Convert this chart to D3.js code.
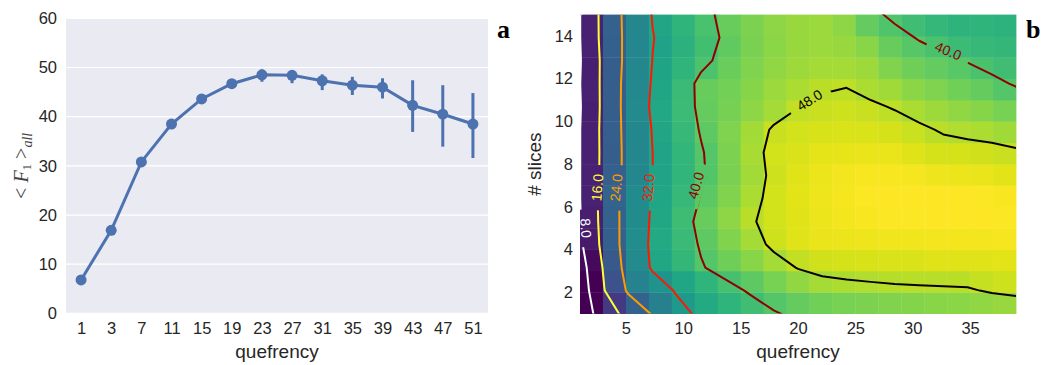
<!DOCTYPE html>
<html>
<head>
<meta charset="utf-8">
<script src="https://cdn.jsdelivr.net/npm/d3@7"></script>
<style>
body { margin: 0; background: #fff; }
text { font-family: "Liberation Sans", Arial, sans-serif; }
</style>
</head>
<body>
<div class="container"></div>
<script>
// ---- panel a : mean F1 per quefrency ----
var quefA = ["1","3","7","11","15","19","23","27","31","35","39","43","47","51"];
var meanF1 = [6.8, 16.9, 30.8, 38.5, 43.6, 46.7, 48.5, 48.4, 47.3, 46.4, 46.0, 42.3, 40.5, 38.5];
var ciLow  = [6.5, 16.6, 30.3, 37.9, 43.0, 45.9, 47.1, 46.8, 45.4, 44.4, 43.7, 36.9, 33.9, 31.6];
var ciHigh = [7.1, 17.2, 31.3, 39.1, 44.2, 47.5, 49.6, 49.3, 48.6, 48.1, 47.8, 47.4, 46.4, 44.8];
var yTicksA = [0, 10, 20, 30, 40, 50, 60];

// ---- panel b : F1 over quefrency x slices ----
var quefExtent = [1, 39];
var sliceExtent = [1, 15];
// one row per slice step, bottom row first, 19 quefrency columns
var f1Grid = [
	[3.5, 11.7, 18.8, 24.6, 29.9, 33.3, 35.4, 37.5, 39.6, 41.0, 42.0, 42.6, 43.0, 43.4, 43.6, 43.9, 44.1, 44.5, 45.0],
	[3.4, 15.8, 25.0, 28.7, 32.6, 35.4, 38.2, 40.5, 42.5, 44.5, 46.0, 46.6, 46.9, 47.2, 47.4, 47.5, 47.6, 48.4, 48.9],
	[4.6, 16.9, 26.8, 32.7, 36.1, 39.6, 41.9, 44.0, 46.1, 48.2, 49.2, 49.5, 49.8, 50.0, 50.0, 50.2, 50.3, 50.3, 50.5],
	[6.7, 18.4, 27.3, 33.1, 36.9, 40.5, 43.3, 46.1, 48.9, 50.2, 51.0, 51.3, 51.5, 51.6, 51.7, 51.8, 51.8, 51.9, 52.0],
	[7.6, 18.8, 27.1, 32.8, 37.3, 41.3, 44.4, 47.5, 49.3, 50.3, 51.2, 51.8, 52.2, 52.4, 52.5, 52.6, 52.6, 52.6, 52.5],
	[7.9, 19.0, 27.0, 32.5, 36.4, 40.3, 43.3, 46.4, 49.4, 50.5, 51.5, 52.0, 52.4, 52.6, 52.7, 52.7, 52.6, 52.5, 52.3],
	[7.9, 18.1, 26.3, 32.0, 35.7, 39.4, 42.7, 45.8, 49.0, 50.3, 51.3, 51.9, 52.2, 52.2, 52.0, 51.5, 51.2, 51.0, 50.5],
	[7.9, 18.0, 26.3, 32.0, 35.8, 39.6, 42.9, 46.2, 49.3, 50.0, 50.6, 50.9, 51.0, 51.0, 50.3, 49.5, 49.5, 49.2, 48.6],
	[7.9, 18.1, 26.5, 32.3, 36.4, 40.4, 43.1, 45.8, 48.5, 49.3, 49.8, 50.0, 50.0, 49.6, 48.7, 47.6, 46.9, 46.4, 45.6],
	[7.6, 17.9, 26.8, 32.9, 37.1, 41.0, 42.4, 44.3, 46.1, 47.9, 48.5, 48.9, 48.6, 47.7, 46.4, 45.4, 44.5, 43.8, 42.6],
	[7.9, 17.9, 26.7, 32.5, 36.9, 41.2, 42.3, 43.8, 45.2, 46.5, 47.6, 47.8, 46.5, 45.6, 44.2, 43.1, 42.0, 41.0, 39.6],
	[7.6, 17.9, 26.2, 32.1, 35.4, 38.8, 41.4, 43.2, 44.6, 45.5, 46.0, 46.1, 45.4, 43.4, 41.9, 40.8, 39.8, 38.5, 37.5],
	[7.9, 18.4, 26.0, 31.8, 34.8, 37.8, 40.7, 42.8, 44.2, 45.0, 45.3, 45.0, 43.9, 41.3, 39.7, 38.5, 37.1, 36.5, 36.0],
	[7.9, 18.5, 26.2, 32.3, 35.4, 38.5, 41.2, 43.0, 44.3, 45.0, 45.2, 44.3, 41.0, 39.1, 37.5, 36.3, 35.3, 35.5, 35.0]
];
var levels = [8, 16, 24, 32, 40, 48];
var xTicksB = [5, 10, 15, 20, 25, 30, 35];
var yTicksB = [2, 4, 6, 8, 10, 12, 14];
// contour labels: level, quefrency, slices
var labelSpots = [[8, 1.52, 5.0], [16, 2.5, 6.9], [24, 4.15, 6.9], [32, 6.95, 6.9],
	[40, 11.1, 7.0], [48, 21.0, 11.0], [40, 33.1, 13.3]];

var W = 1043, H = 365;
var textCol = "#262626";
var blue = "#4c72b0";

var svg = d3.select(".container").append("svg")
	.attr("width", W)
	.attr("height", H);
var defs = svg.append("defs");

function styleTicks(g, size) {
	g.select(".domain").remove();
	g.selectAll("text")
		.style("font-size", size)
		.style("fill", textCol)
		.style("font-family", "'Liberation Sans', Arial, sans-serif");
}

// ================= panel a =================
var pa = {l: 66, r: 488, t: 18.3, b: 313.4};
var xA = d3.scalePoint().domain(quefA).range([pa.l, pa.r]).padding(0.5);
var yA = d3.scaleLinear().domain([0, 60]).range([pa.b, pa.t]);

var gA = svg.append("g");
gA.append("rect")
	.attr("x", pa.l).attr("y", pa.t)
	.attr("width", pa.r - pa.l).attr("height", pa.b - pa.t)
	.attr("fill", "#eaeaf2");

gA.selectAll(".grid").data(yTicksA).enter().append("line")
	.attr("class", "grid")
	.attr("x1", pa.l).attr("x2", pa.r)
	.attr("y1", function(d) { return yA(d); })
	.attr("y2", function(d) { return yA(d); })
	.style("stroke", "#fff")
	.style("stroke-width", 1.2);

gA.append("g")
	.attr("transform", "translate(" + pa.l + ",0)")
	.call(d3.axisLeft(yA).tickValues(yTicksA).tickSize(0).tickPadding(9))
	.call(styleTicks, "16.5px");

gA.append("g")
	.attr("transform", "translate(0," + pa.b + ")")
	.call(d3.axisBottom(xA).tickSize(0).tickPadding(9))
	.call(styleTicks, "16.5px");

gA.selectAll(".ebar").data(quefA).enter().append("line")
	.attr("class", "ebar")
	.attr("x1", function(d) { return xA(d); })
	.attr("x2", function(d) { return xA(d); })
	.attr("y1", function(d, i) { return yA(ciLow[i]); })
	.attr("y2", function(d, i) { return yA(ciHigh[i]); })
	.style("stroke", blue)
	.style("stroke-width", 3);

var lineA = d3.line()
	.x(function(d, i) { return xA(quefA[i]); })
	.y(function(d) { return yA(d); });

gA.append("path")
	.datum(meanF1)
	.attr("d", lineA)
	.style("fill", "none")
	.style("stroke", blue)
	.style("stroke-width", 3);

gA.selectAll(".pt").data(meanF1).enter().append("circle")
	.attr("class", "pt")
	.attr("cx", function(d, i) { return xA(quefA[i]); })
	.attr("cy", function(d) { return yA(d); })
	.attr("r", 5.5)
	.style("fill", blue);

gA.append("text")
	.attr("x", (pa.l + pa.r) / 2).attr("y", 358)
	.attr("text-anchor", "middle")
	.style("font-size", "19px")
	.style("fill", textCol)
	.text("quefrency");

var yl = gA.append("text")
	.attr("transform", "translate(28," + ((pa.t + pa.b) / 2) + ") rotate(-90)")
	.attr("text-anchor", "middle")
	.style("font-family", "'Liberation Serif', 'DejaVu Serif', serif")
	.style("font-size", "20px")
	.style("fill", "#444");
yl.append("tspan").text("< ");
yl.append("tspan").style("font-style", "italic").text("F");
yl.append("tspan").attr("baseline-shift", "-25%").style("font-size", "13px").text("1");
yl.append("tspan").text(" >");
yl.append("tspan").attr("baseline-shift", "-25%").style("font-size", "14px").style("font-style", "italic").text("all");

svg.append("text")
	.attr("x", 497).attr("y", 38)
	.style("font-family", "'Liberation Serif', 'DejaVu Serif', serif")
	.style("font-weight", "bold")
	.style("font-size", "26px")
	.style("fill", "#000")
	.text("a");

// ================= panel b =================
var pb = {l: 580, r: 1016, t: 14.6, b: 313.6};
var nCols = f1Grid[0].length, nRows = f1Grid.length;
var xB = d3.scaleLinear().domain(quefExtent).range([pb.l, pb.r]);
var yB = d3.scaleLinear().domain(sliceExtent).range([pb.b, pb.t]);
var colW = (quefExtent[1] - quefExtent[0]) / nCols;
var rowH = (sliceExtent[1] - sliceExtent[0]) / nRows;

var flat = [];
f1Grid.forEach(function(row, i) {
	row.forEach(function(v, j) { flat.push({i: i, j: j, v: v}); });
});
var allVals = flat.map(function(d) { return d.v; });
var color = d3.scaleSequential(d3.interpolateViridis).domain(d3.extent(allVals));

var gB = svg.append("g");
gB.selectAll(".cell").data(flat).enter().append("rect")
	.attr("class", "cell")
	.attr("x", function(d) { return xB(quefExtent[0] + d.j * colW); })
	.attr("y", function(d) { return yB(sliceExtent[0] + (d.i + 1) * rowH); })
	.attr("width", xB(colW) - xB(0) + 0.4)
	.attr("height", yB(0) - yB(rowH) + 0.4)
	.style("fill", function(d) { return color(d.v); });

// contours: data points span the whole extent (corner to corner)
var stepX = (quefExtent[1] - quefExtent[0]) / (nCols - 1);
var stepY = (sliceExtent[1] - sliceExtent[0]) / (nRows - 1);
function gridToPx(c, r) {
	return [xB(quefExtent[0] + (c - 0.5) * stepX), yB(sliceExtent[0] + (r - 0.5) * stepY)];
}
var proj = d3.geoTransform({
	point: function(c, r) {
		var p = gridToPx(c, r);
		this.stream.point(p[0], p[1]);
	}
});
var pathB = d3.geoPath(proj);

var contours = d3.contours()
	.size([nCols, nRows])
	.thresholds(levels)(allVals);

// hot_r colours for the six levels
var levelColors = ["#ffffff", "#ffff36", "#ff9d00", "#ff1800", "#900000", "#0b0000"];

defs.append("clipPath").attr("id", "clipB")
	.append("rect")
	.attr("x", pb.l).attr("y", pb.t)
	.attr("width", pb.r - pb.l).attr("height", pb.b - pb.t);

var masks = levels.map(function(lv, k) {
	var m = defs.append("mask").attr("id", "mask" + k)
		.attr("maskUnits", "userSpaceOnUse")
		.attr("x", 0).attr("y", 0).attr("width", W).attr("height", H);
	m.append("rect").attr("width", W).attr("height", H).attr("fill", "white");
	return m;
});

var gLines = gB.append("g").attr("clip-path", "url(#clipB)");
contours.forEach(function(ct, k) {
	gLines.append("g")
		.attr("mask", "url(#mask" + k + ")")
		.append("path")
		.attr("d", pathB(ct))
		.style("fill", "none")
		.style("stroke", levelColors[k])
		.style("stroke-width", 2)
		.style("stroke-linejoin", "round");
});

// angle of the level's line closest to a pixel point
function angleOnLevel(k, px, py) {
	var best = {d: Infinity, a: 0};
	contours[k].coordinates.forEach(function(poly) {
		poly.forEach(function(ring) {
			for (var n = 1; n < ring.length; n++) {
				var p0 = gridToPx(ring[n - 1][0], ring[n - 1][1]);
				var p1 = gridToPx(ring[n][0], ring[n][1]);
				var dx = p1[0] - p0[0], dy = p1[1] - p0[1];
				var len2 = dx * dx + dy * dy;
				if (len2 === 0) continue;
				var t = ((px - p0[0]) * dx + (py - p0[1]) * dy) / len2;
				t = Math.max(0, Math.min(1, t));
				var qx = p0[0] + t * dx, qy = p0[1] + t * dy;
				var dd = (qx - px) * (qx - px) + (qy - py) * (qy - py);
				if (dd < best.d) {
					best = {d: dd, a: Math.atan2(dy, dx) * 180 / Math.PI};
				}
			}
		});
	});
	var a = best.a;
	if (a >= 90) a -= 180;
	if (a < -90) a += 180;
	return a;
}

var gLab = gB.append("g");
labelSpots.forEach(function(s) {
	var k = levels.indexOf(s[0]);
	var px = xB(s[1]), py = yB(s[2]);
	var a = angleOnLevel(k, px, py);
	var tr = "translate(" + px + "," + py + ") rotate(" + a + ")";
	var t = gLab.append("text")
		.attr("transform", tr)
		.attr("text-anchor", "middle")
		.attr("dy", "0.36em")
		.style("font-size", "14px")
		.style("fill", levelColors[k])
		.text(s[0].toFixed(1));
	var w = t.node().getComputedTextLength();
	masks[k].append("rect")
		.attr("transform", tr)
		.attr("x", -w / 2 - 9).attr("y", -8)
		.attr("width", w + 18).attr("height", 16)
		.attr("fill", "black");
});

gB.append("g")
	.attr("transform", "translate(0," + pb.b + ")")
	.call(d3.axisBottom(xB).tickValues(xTicksB).tickSize(0).tickPadding(9))
	.call(styleTicks, "16.5px");

gB.append("g")
	.attr("transform", "translate(" + pb.l + ",0)")
	.call(d3.axisLeft(yB).tickValues(yTicksB).tickSize(0).tickPadding(7))
	.call(styleTicks, "16.5px");

gB.append("text")
	.attr("x", (pb.l + pb.r) / 2).attr("y", 358)
	.attr("text-anchor", "middle")
	.style("font-size", "19px")
	.style("fill", textCol)
	.text("quefrency");

gB.append("text")
	.attr("transform", "translate(541," + ((pb.t + pb.b) / 2) + ") rotate(-90)")
	.attr("text-anchor", "middle")
	.style("font-size", "19px")
	.style("fill", textCol)
	.text("# slices");

svg.append("text")
	.attr("x", 1026).attr("y", 38)
	.style("font-family", "'Liberation Serif', 'DejaVu Serif', serif")
	.style("font-weight", "bold")
	.style("font-size", "26px")
	.style("fill", "#000")
	.text("b");
</script>
</body>
</html>
